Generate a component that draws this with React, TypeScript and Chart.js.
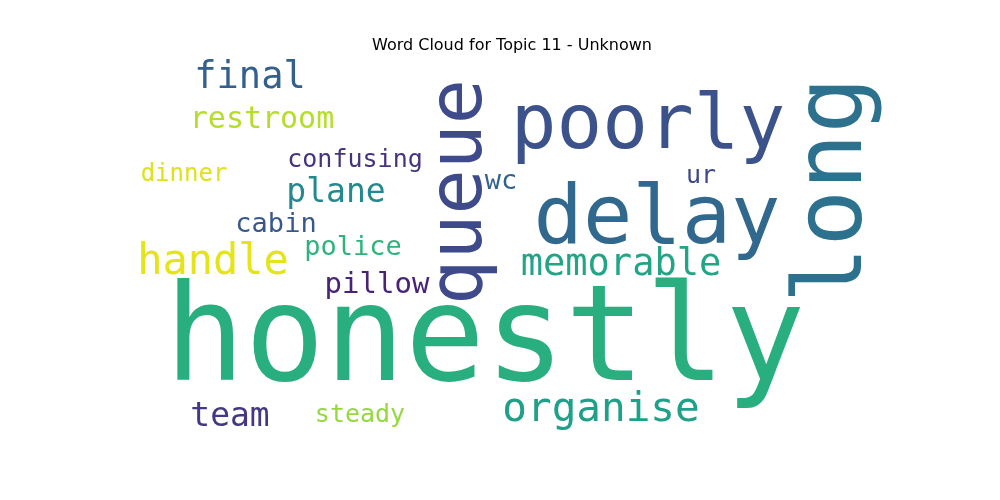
import { useEffect, useRef } from "react";
import { Chart, registerables } from "chart.js";

Chart.register(...registerables);

const words = ["honestly", "delay", "poorly", "long", "queue", "final", "restroom", "confusing", "dinner", "plane", "wc", "ur", "cabin", "handle", "police", "memorable", "pillow", "team", "steady", "organise"];
const xs = [485, 657, 648, 837, 462, 250, 262, 355, 184, 336, 501, 701, 276, 213, 353, 621, 377, 230, 360, 601];
const ys = [345, 222, 128, 190, 192, 78, 120, 160, 175, 193, 182, 176, 225, 263, 248, 265, 285, 417, 415, 410];
const sizes = [133, 82, 76, 94, 75, 37, 30, 25, 24, 33, 27, 25, 27, 42, 27, 37, 29, 33, 25, 41];
const rotated = [false, false, false, true, true, false, false, false, false, false, false, false, false, false, false, false, false, false, false, false];
const colors = ["#29af7f", "#31688e", "#3b528b", "#2c728e", "#3e4a89", "#35608d", "#b5de2b", "#46337e", "#dde318", "#23898e", "#33638d", "#3f4788", "#38588c", "#e5e419", "#2eb37c", "#21a585", "#482475", "#453781", "#95d840", "#1fa088"];
const title = "Word Cloud for Topic 11 - Unknown";

export default function App() {
  const chartRef = useRef<HTMLCanvasElement>(null);
  const chartInstanceRef = useRef<Chart | null>(null);

  useEffect(() => {
    document.body.style.margin = "0";
    if (!chartRef.current) return;
    if (chartInstanceRef.current) chartInstanceRef.current.destroy();
    const ctx = chartRef.current.getContext("2d");
    if (!ctx) return;

    const wordPlugin = {
      id: "words",
      afterDatasetsDraw(chart: any) {
        const c = chart.ctx;
        const sx = chart.scales.x;
        const sy = chart.scales.y;
        c.save();
        c.fillStyle = "#000";
        c.font = '16px "DejaVu Sans"';
        c.textAlign = "center";
        c.textBaseline = "middle";
        c.fillText(title, sx.getPixelForValue(512), sy.getPixelForValue(46));
        words.forEach((w, i) => {
          const px = sx.getPixelForValue(xs[i]);
          const py = sy.getPixelForValue(ys[i]);
          c.save();
          c.translate(px, py);
          if (rotated[i]) c.rotate(-Math.PI / 2);
          c.fillStyle = colors[i];
          c.font = `${sizes[i]}px "DejaVu Sans Mono"`;
          c.fillText(w, 0, 0);
          c.restore();
        });
        c.restore();
      },
    };

    chartInstanceRef.current = new Chart(ctx, {
      type: "scatter",
      data: {
        datasets: [
          {
            data: words.map((_, i) => ({ x: xs[i], y: ys[i] })),
            pointRadius: 0,
          },
        ],
      },
      options: {
        responsive: true,
        maintainAspectRatio: false,
        animation: false,
        layout: { padding: 0 },
        scales: {
          x: { type: "linear", min: 0, max: 1000, display: false },
          y: { type: "linear", min: 0, max: 500, reverse: true, display: false },
        },
        plugins: { legend: { display: false }, tooltip: { enabled: false } },
      },
      plugins: [wordPlugin],
    });

    return () => {
      if (chartInstanceRef.current) chartInstanceRef.current.destroy();
    };
  }, []);

  return (
    <div style={{ width: 1000, height: 500, background: "#fff" }}>
      <canvas ref={chartRef} />
    </div>
  );
}
